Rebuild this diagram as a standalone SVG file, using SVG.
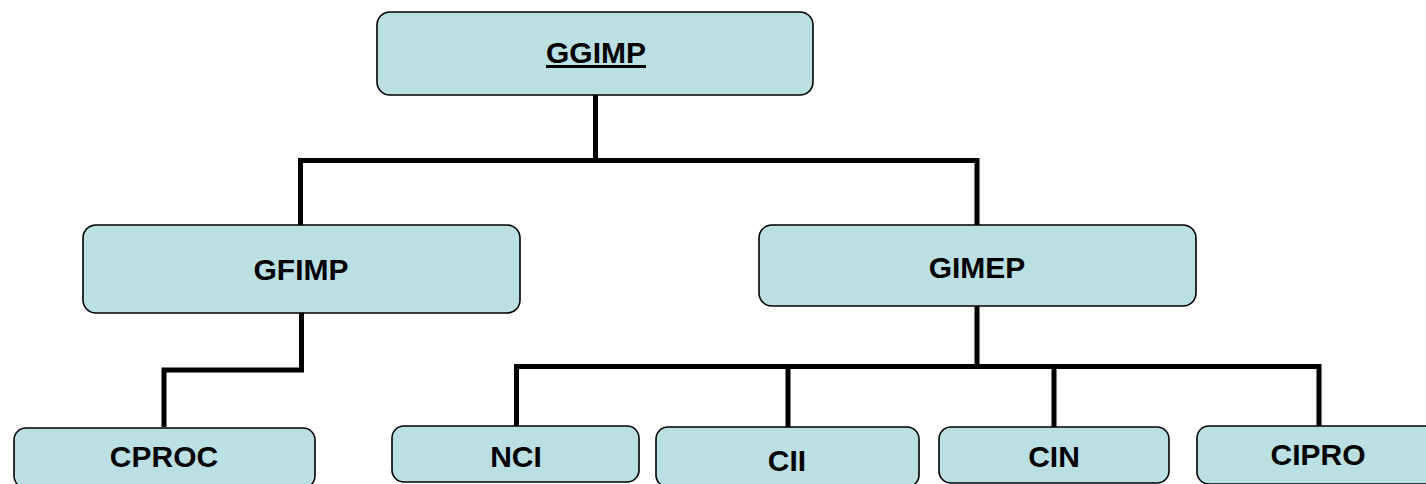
<svg xmlns="http://www.w3.org/2000/svg" width="1426" height="484" viewBox="0 0 1426 484">
<style>
.box{fill:#BBE0E3;stroke:#000;stroke-width:1.6}
.lbl{font-family:"Liberation Sans",Arial,sans-serif;font-weight:bold;font-size:30px;fill:#000;text-anchor:middle}
.con{fill:none;stroke:#000;stroke-width:5;stroke-linejoin:miter;stroke-linecap:butt}
</style>
<rect width="1426" height="484" fill="#fff"/>
<g id="connectors">
<path class="con" d="M595.5 95 V160.5 M298 160.5 H979.5 M300.5 160.5 V225 M977 160.5 V225"/>
<path class="con" d="M301.5 313 V370 H164 V427"/>
<path class="con" d="M977 306 V366.5 M514 366.5 H1321.5 M516.5 366.5 V427 M788 366.5 V427 M1054 366.5 V427 M1319 366.5 V427"/>
</g>
<g id="GGIMP"><rect class="box" x="377" y="12" width="436" height="83" rx="13"/><text class="lbl" x="596" y="63" text-decoration="underline">GGIMP</text></g>
<g id="GFIMP"><rect class="box" x="83" y="225" width="437" height="88" rx="13"/><text class="lbl" x="301" y="280">GFIMP</text></g>
<g id="GIMEP"><rect class="box" x="759" y="225" width="437" height="81" rx="13"/><text class="lbl" x="977" y="278">GIMEP</text></g>
<g id="CPROC"><rect class="box" x="14" y="428" width="301" height="60" rx="12"/><text class="lbl" x="164" y="467">CPROC</text></g>
<g id="NCI"><rect class="box" x="392" y="426" width="247" height="56" rx="12"/><text class="lbl" x="516" y="467">NCI</text></g>
<g id="CII"><rect class="box" x="656" y="427" width="263" height="60" rx="12"/><text class="lbl" x="787" y="471">CII</text></g>
<g id="CIN"><rect class="box" x="939" y="427" width="230" height="56" rx="12"/><text class="lbl" x="1054" y="467">CIN</text></g>
<g id="CIPRO"><rect class="box" x="1197" y="426" width="240" height="58" rx="12"/><text class="lbl" x="1318" y="465">CIPRO</text></g>
</svg>
